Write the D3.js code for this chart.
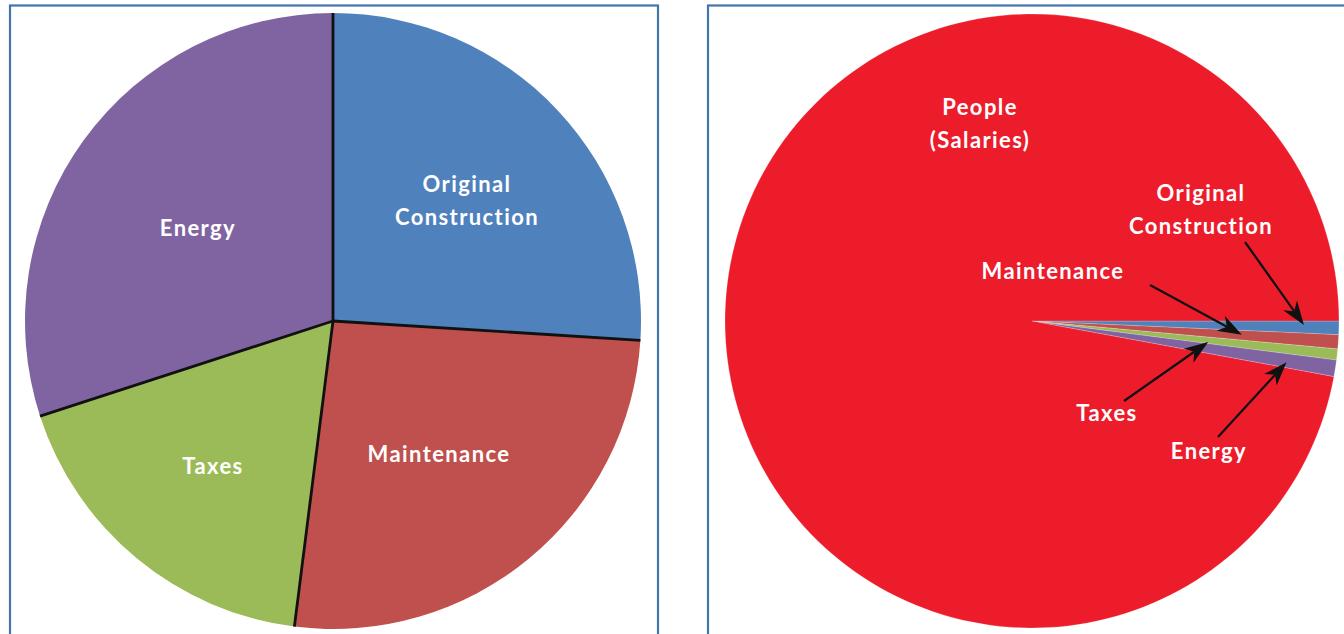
<!DOCTYPE html>
<html>
<head>
<meta charset="utf-8">
<script src="https://cdn.jsdelivr.net/npm/d3@7"></script>
<style>
  html, body { margin: 0; padding: 0; background: #ffffff; }
  svg { display: block; }
  .lbl { fill: #ffffff; font-family: "Lato", "Open Sans", sans-serif; font-weight: 700; font-size: 22px; letter-spacing: 1.4px; }
</style>
</head>
<body>
<svg id="chart" width="1344" height="634"></svg>
<script>
// ---------- data ----------
const leftCategories = ["Original Construction", "Maintenance", "Taxes", "Energy"];
const leftValues = [26, 26, 18, 30];
const leftColors = ["#4f81bd", "#c0504d", "#9bbb59", "#8064a2"];

const rightCategories = ["Original Construction", "Maintenance", "Taxes", "Energy", "People (Salaries)"];
const rightValues = [0.71, 0.74, 0.58, 0.87, 97.1];
const rightColors = ["#4f81bd", "#c0504d", "#9bbb59", "#8064a2", "#ed1c2b"];

// label lines for each category (left pie)
const leftLabels = [
  { cat: "Original Construction", lines: ["Original", "Construction"], x: 467, y: 201 },
  { cat: "Maintenance", lines: ["Maintenance"], x: 439, y: 454 },
  { cat: "Taxes", lines: ["Taxes"], x: 213, y: 466 },
  { cat: "Energy", lines: ["Energy"], x: 198, y: 228 }
];
// right pie labels with arrows; tipR = radius fraction where arrow points within the slice
const rightLabels = [
  { cat: "People (Salaries)", lines: ["People", "(Salaries)"], x: 980, y: 124, arrow: null },
  { cat: "Original Construction", lines: ["Original", "Construction"], x: 1201, y: 210, arrow: { from: [1245, 242], tipR: 0.886, tipF: 0.33 } },
  { cat: "Maintenance", lines: ["Maintenance"], x: 1053, y: 271, arrow: { from: [1150, 285], tipR: 0.685, tipF: 0.45 } },
  { cat: "Taxes", lines: ["Taxes"], x: 1107, y: 413, arrow: { from: [1124, 401], tipR: 0.578, tipF: 0.75 } },
  { cat: "Energy", lines: ["Energy"], x: 1209, y: 451, arrow: { from: [1218, 437], tipR: 0.84, tipF: 0.6 } }
];

// ---------- layout ----------
const svg = d3.select("#chart");
const panels = [
  { x: 10, y: 5.5, w: 648, h: 700 },
  { x: 708, y: 5.5, w: 700, h: 700 }
];
svg.selectAll("rect.panel").data(panels).join("rect")
  .attr("class", "panel")
  .attr("x", d => d.x).attr("y", d => d.y)
  .attr("width", d => d.w).attr("height", d => d.h)
  .attr("fill", "none").attr("stroke", "#4375ac").attr("stroke-width", 2.2);

// ---------- left pie ----------
const L = { cx: 333, cy: 321, r: 308 };
const pieL = d3.pie().sort(null).value(d => d.v).startAngle(0).endAngle(2 * Math.PI);
const arcsL = pieL(leftCategories.map((c, i) => ({ c, v: leftValues[i], col: leftColors[i] })));
const arcL = d3.arc().innerRadius(0).outerRadius(L.r);
const gL = svg.append("g").attr("transform", `translate(${L.cx},${L.cy})`);
gL.selectAll("path.slice").data(arcsL).join("path")
  .attr("class", "slice")
  .attr("d", arcL).attr("fill", d => d.data.col);
// black separators between slices
gL.selectAll("line.sep").data(arcsL).join("line")
  .attr("class", "sep")
  .attr("x1", 0).attr("y1", 0)
  .attr("x2", d => L.r * Math.sin(d.startAngle))
  .attr("y2", d => -L.r * Math.cos(d.startAngle))
  .attr("stroke", "#111").attr("stroke-width", 2.8);

function drawLabel(g, lab) {
  const lh = 33;
  const n = lab.lines.length;
  const t = g.append("text").attr("class", "lbl").attr("text-anchor", "middle");
  lab.lines.forEach((ln, i) => {
    t.append("tspan").attr("x", lab.x).attr("y", lab.y + (i - (n - 1) / 2) * lh)
      .attr("dy", "0.35em").text(ln);
  });
}
leftLabels.forEach(l => drawLabel(svg, l));

// ---------- right pie ----------
const R = { cx: 1032, cy: 321, r: 307 };
const pieR = d3.pie().sort(null).value(d => d.v).startAngle(Math.PI / 2).endAngle(Math.PI / 2 + 2 * Math.PI);
const arcsR = pieR(rightCategories.map((c, i) => ({ c, v: rightValues[i], col: rightColors[i] })));
const arcR = d3.arc().innerRadius(0).outerRadius(R.r);
const gR = svg.append("g").attr("transform", `translate(${R.cx},${R.cy})`);
gR.selectAll("path.slice").data(arcsR).join("path")
  .attr("class", "slice")
  .attr("d", arcR).attr("fill", d => d.data.col)
  .attr("stroke", "rgba(255,255,255,0.35)").attr("stroke-width", 0.6);

// labels and arrows
rightLabels.forEach(l => drawLabel(svg, l));
const arrowG = svg.append("g");
rightLabels.filter(l => l.arrow).forEach(l => {
  const a = arcsR.find(d => d.data.c === l.cat);
  const ang = a.startAngle + (a.endAngle - a.startAngle) * l.arrow.tipF;
  const rr = R.r * l.arrow.tipR;
  const tip = [R.cx + rr * Math.sin(ang), R.cy - rr * Math.cos(ang)];
  const from = l.arrow.from;
  const dx = tip[0] - from[0], dy = tip[1] - from[1];
  const len = Math.hypot(dx, dy);
  const ux = dx / len, uy = dy / len, px = -uy, py = ux;
  const hl = 24, hw = 8.5, notch = 17;
  const base = [tip[0] - ux * notch, tip[1] - uy * notch];
  arrowG.append("line")
    .attr("x1", from[0]).attr("y1", from[1])
    .attr("x2", base[0]).attr("y2", base[1])
    .attr("stroke", "#111").attr("stroke-width", 2.2);
  const pts = [
    tip,
    [tip[0] - ux * hl + px * hw, tip[1] - uy * hl + py * hw],
    base,
    [tip[0] - ux * hl - px * hw, tip[1] - uy * hl - py * hw]
  ];
  arrowG.append("path").attr("d", "M" + pts.map(p => p.join(",")).join("L") + "Z").attr("fill", "#111");
});
</script>
</body>
</html>
